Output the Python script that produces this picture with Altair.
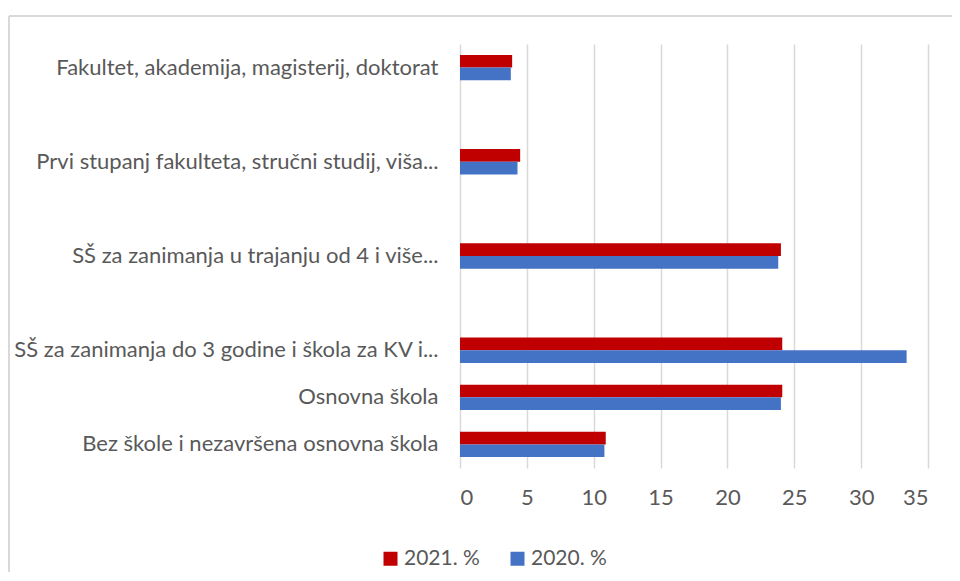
import altair as alt
import pandas as pd

categories = [
    "Fakultet, akademija, magisterij, doktorat",
    "Prvi stupanj fakulteta, stručni studij, viša...",
    "SŠ za zanimanja u trajanju od 4 i više...",
    "SŠ za zanimanja do 3 godine i škola za KV i...",
    "Osnovna škola",
    "Bez škole i nezavršena osnovna škola",
]
# axis slots top to bottom (blank slots are empty categories in the source chart)
y_domain = [
    "Fakultet, akademija, magisterij, doktorat",
    " ",
    "Prvi stupanj fakulteta, stručni studij, viša...",
    "  ",
    "SŠ za zanimanja u trajanju od 4 i više...",
    "   ",
    "SŠ za zanimanja do 3 godine i škola za KV i...",
    "Osnovna škola",
    "Bez škole i nezavršena osnovna škola",
]
series = ["2021. %", "2020. %"]
values_2021 = [3.9, 4.5, 24.0, 24.1, 24.1, 10.9]
values_2020 = [3.8, 4.3, 23.8, 33.4, 24.0, 10.8]
x_ticks = [0, 5, 10, 15, 20, 25, 30, 35]
colors = ["#C00000", "#4472C4"]

rows = []
for c, v in zip(categories, values_2021):
    rows.append({"category": c, "year": series[0], "value": v})
for c, v in zip(categories, values_2020):
    rows.append({"category": c, "year": series[1], "value": v})
df = pd.DataFrame(rows)

FONT = "Lato"
GRAY = "#595959"
W, H = 468, 424
PAD = {"left": 452, "top": 36, "right": 24, "bottom": 104}

bars = alt.Chart(df).mark_bar().encode(
    x=alt.X(
        "value:Q",
        scale=alt.Scale(domain=[0, 35], nice=False),
        axis=alt.Axis(
            values=x_ticks, title=None, domain=False, ticks=False, grid=True,
            gridColor="#D9D9D9", gridWidth=1.5, labelPadding=19,
            labelFontSize=22, labelColor=GRAY, labelFont=FONT,
        ),
    ),
    y=alt.Y(
        "category:N",
        scale=alt.Scale(domain=y_domain, paddingInner=0.462, paddingOuter=0.231),
        axis=alt.Axis(
            title=None, domain=False, ticks=False, grid=False, labelPadding=22,
            labelFontSize=22, labelColor=GRAY, labelFont=FONT, labelLimit=0,
        ),
    ),
    yOffset=alt.YOffset("year:N", scale=alt.Scale(domain=series)),
    color=alt.Color(
        "year:N",
        scale=alt.Scale(domain=series, range=colors),
        legend=alt.Legend(
            title=None, orient="none", direction="horizontal",
            legendX=-80, legendY=504, symbolType="square", symbolSize=196,
            symbolStrokeWidth=0, labelFontSize=21, labelColor=GRAY,
            labelFont=FONT, columnPadding=27, labelOffset=3, padding=0,
        ),
    ),
)

# chart-area border (decorative frame of the original)
frame_src = pd.DataFrame({"k": [0]})
frame_top = alt.Chart(frame_src).mark_rule(color="#D9D9D9", strokeWidth=2).encode(
    x=alt.value(-PAD["left"] + 1), x2=alt.value(W + PAD["right"]),
    y=alt.value(-PAD["top"] + 8),
)
frame_left = alt.Chart(frame_src).mark_rule(color="#D9D9D9", strokeWidth=2).encode(
    x=alt.value(-PAD["left"] + 1),
    y=alt.value(-PAD["top"] + 8), y2=alt.value(H + PAD["bottom"]),
)

chart = alt.layer(bars, frame_top, frame_left).properties(
    width=W,
    height=H,
    autosize=alt.AutoSizeParams(type="none"),
    padding=PAD,
).configure_view(stroke=None)

chart.save("out.html", embed_options={"renderer": "svg", "actions": False})
